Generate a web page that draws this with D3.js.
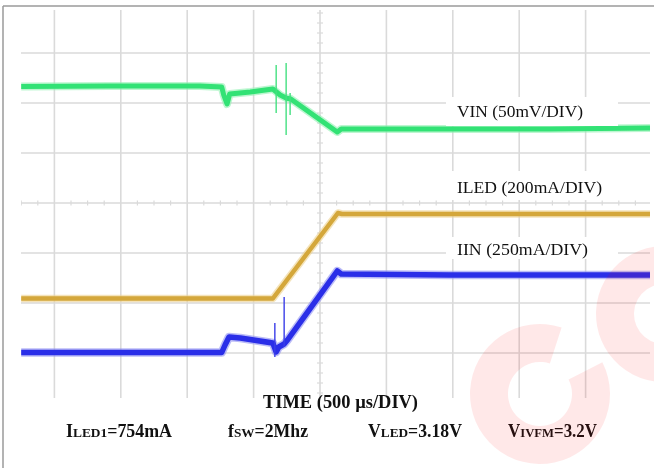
<!DOCTYPE html>
<html>
<head>
<meta charset="utf-8">
<script src="https://cdn.jsdelivr.net/npm/d3@7"></script>
<style>
  html, body { margin: 0; padding: 0; background: #fff; }
  svg { display: block; }
  text { font-family: "Liberation Serif", "DejaVu Serif", serif; fill: #111; }
</style>
</head>
<body>
<svg id="chart" width="654" height="468"></svg>
<script>
// Time axis in divisions (500 µs/DIV), vertical axis in divisions.
const xDivs = [-5, -4, -3, -2, -1, 0, 1, 2, 3, 4, 5];
const yDivs = [-4, -3, -2, -1, 0, 1, 2, 3, 4];

// VIN trace (50mV/DIV)
const vinT = [-4.50, -3.16, -1.81, -1.48, -1.45, -1.40, -1.36, -1.05, -0.71, -0.60, -0.51, -0.44, 0.26, 0.32, 1.96, 3.46, 4.97];
const vinV = [2.33, 2.34, 2.34, 2.32, 2.16, 1.98, 2.18, 2.22, 2.28, 2.16, 2.10, 2.08, 1.42, 1.48, 1.48, 1.48, 1.50];
// VIN switching spikes: time, top, bottom
const vinSpikeT = [-0.66, -0.51, -0.45];
const vinSpikeHi = [2.76, 2.80, 2.20];
const vinSpikeLo = [1.80, 1.36, 1.76];

// ILED trace (200mA/DIV)
const iledT = [-4.50, -0.71, 0.27, 0.33, 4.97];
const iledV = [-1.91, -1.91, -0.20, -0.22, -0.22];

// IIN trace (250mA/DIV)
const iinT = [-4.50, -1.48, -1.43, -1.37, -1.20, -0.71, -0.66, -0.62, -0.54, -0.49, 0.26, 0.32, 1.96, 3.46, 4.97];
const iinV = [-2.99, -2.99, -2.84, -2.68, -2.70, -2.80, -2.98, -2.88, -2.82, -2.74, -1.36, -1.42, -1.44, -1.44, -1.44];
const iinSpikeT = [-0.68, -0.54];
const iinSpikeHi = [-2.40, -1.88];
const iinSpikeLo = [-3.08, -2.88];

// Channel labels
const channelLabels = ["VIN (50mV/DIV)", "ILED (200mA/DIV)", "IIN (250mA/DIV)"];
const timeLabel = "TIME (500 µs/DIV)";
// Operating conditions: [main letter, small-caps part, value]
const condMain = ["I", "f", "V", "V"];
const condSub = ["LED1", "SW", "LED", "IVFM"];
const condVal = ["=754mA", "=2Mhz", "=3.18V", "=3.2V"];

const svg = d3.select("#chart");
const W = 654, H = 468;

const x = d3.scaleLinear().domain([-5, 5]).range([-12, 652]);
const y = d3.scaleLinear().domain([-4, 4]).range([403, 3]);

const plot = { x0: 21, x1: 650, y0: 10, y1: 398 };

svg.append("rect").attr("width", W).attr("height", H).attr("fill", "#fff");

const defs = svg.append("defs");
defs.append("clipPath").attr("id", "plotClip")
  .append("rect")
  .attr("x", plot.x0).attr("y", plot.y0)
  .attr("width", plot.x1 - plot.x0).attr("height", plot.y1 - plot.y0);
defs.append("filter").attr("id", "soft")
  .append("feGaussianBlur").attr("stdDeviation", 0.6);

// Frame
svg.append("line").attr("x1", 3).attr("x2", W).attr("y1", 6).attr("y2", 6)
  .attr("stroke", "#9a9a9a").attr("stroke-width", 1.5);
svg.append("line").attr("x1", 3).attr("x2", 3).attr("y1", 6).attr("y2", H)
  .attr("stroke", "#9a9a9a").attr("stroke-width", 1.5);

const g = svg.append("g").attr("clip-path", "url(#plotClip)");

// Grid
const grid = g.append("g").attr("stroke", "#dadada").attr("stroke-width", 1.6).attr("filter", "url(#soft)");
grid.selectAll(".vg").data(xDivs).join("line")
  .attr("x1", d => x(d)).attr("x2", d => x(d))
  .attr("y1", plot.y0).attr("y2", plot.y1);
grid.selectAll(".hg").data(yDivs).join("line")
  .attr("x1", plot.x0).attr("x2", plot.x1)
  .attr("y1", d => y(d)).attr("y2", d => y(d));

// Minor ticks on the centre axes
const xMinor = d3.range(-5, 5.01, 0.25).filter(d => Math.abs(d - Math.round(d)) > 1e-6);
const yMinor = d3.range(-4, 4.01, 0.2).filter(d => Math.abs(d - Math.round(d)) > 1e-6);
grid.selectAll(".xm").data(xMinor).join("line")
  .attr("x1", d => x(d)).attr("x2", d => x(d))
  .attr("y1", y(0) - 2.5).attr("y2", y(0) + 2.5).attr("stroke-width", 1.2);
grid.selectAll(".ym").data(yMinor).join("line")
  .attr("x1", x(0) - 3).attr("x2", x(0) + 3)
  .attr("y1", d => y(d)).attr("y2", d => y(d)).attr("stroke-width", 1.2);

// Label backgrounds that mask the grid
const labelPos = [
  { x: 457, y: 117, box: [446, 97, 172, 29], len: 126 },
  { x: 457, y: 193, box: [446, 171, 172, 29], len: 145 },
  { x: 457, y: 255, box: [446, 237, 172, 22], len: 131 }
];
svg.selectAll(".lblbg").data(labelPos).join("rect")
  .attr("x", d => d.box[0]).attr("y", d => d.box[1])
  .attr("width", d => d.box[2]).attr("height", d => d.box[3])
  .attr("fill", "#fff");

// Traces
const line = d3.line().x(d => x(d[0])).y(d => y(d[1]));
const traces = [
  { t: vinT, v: vinV, core: "#33e274", halo: "#8ff0b0", w: 5 },
  { t: iledT, v: iledV, core: "#d4a73a", halo: "#ecd08c", w: 4.5 },
  { t: iinT, v: iinV, core: "#2a2ee8", halo: "#8d8ff2", w: 5.5 }
];
const tg = g.append("g").attr("filter", "url(#soft)");
traces.forEach(tr => {
  const pts = d3.zip(tr.t, tr.v);
  tg.append("path").datum(pts).attr("d", line)
    .attr("fill", "none").attr("stroke", tr.halo).attr("stroke-width", tr.w + 3)
    .attr("stroke-linejoin", "round").attr("opacity", 0.6);
  tg.append("path").datum(pts).attr("d", line)
    .attr("fill", "none").attr("stroke", tr.core).attr("stroke-width", tr.w)
    .attr("stroke-linejoin", "round");
});

// Spikes
const spikes = [
  { t: vinSpikeT, hi: vinSpikeHi, lo: vinSpikeLo, c: "#44e080" },
  { t: iinSpikeT, hi: iinSpikeHi, lo: iinSpikeLo, c: "#3a3ee8" }
];
spikes.forEach(s => {
  tg.selectAll(null).data(d3.range(s.t.length)).join("line")
    .attr("x1", i => x(s.t[i])).attr("x2", i => x(s.t[i]))
    .attr("y1", i => y(s.hi[i])).attr("y2", i => y(s.lo[i]))
    .attr("stroke", s.c).attr("stroke-width", 1.4);
});

// Channel labels
svg.selectAll(".chl").data(labelPos).join("text")
  .attr("x", d => d.x).attr("y", d => d.y)
  .attr("font-size", 17)
  .attr("textLength", d => d.len).attr("lengthAdjust", "spacingAndGlyphs")
  .text((d, i) => channelLabels[i]);

// Time label
svg.append("text").attr("x", 263).attr("y", 408)
  .attr("font-size", 18).attr("font-weight", "bold")
  .attr("textLength", 155).attr("lengthAdjust", "spacingAndGlyphs")
  .text(timeLabel);

// Operating conditions row
const condX = [66, 228, 368, 508];
const condLen = [106, 80, 94, 89];
condMain.forEach((m, i) => {
  const t = svg.append("text").attr("x", condX[i]).attr("y", 437)
    .attr("font-size", 18).attr("font-weight", "bold")
    .attr("textLength", condLen[i]).attr("lengthAdjust", "spacingAndGlyphs");
  t.append("tspan").text(m);
  t.append("tspan").attr("font-size", 13.5).text(condSub[i]);
  t.append("tspan").text(condVal[i]);
});

// Watermark
const mark = d3.arc().startAngle(63 * Math.PI / 180).endAngle(378 * Math.PI / 180);
const marks = [
  { cx: 540, cy: 394, r0: 32, r1: 70 },
  { cx: 664, cy: 314, r0: 30, r1: 68 }
];
svg.selectAll(".wm").data(marks).join("path")
  .attr("transform", d => `translate(${d.cx},${d.cy})`)
  .attr("d", d => mark({ innerRadius: d.r0, outerRadius: d.r1 }))
  .attr("fill", "#ff0000").attr("opacity", 0.09);
</script>
</body>
</html>
